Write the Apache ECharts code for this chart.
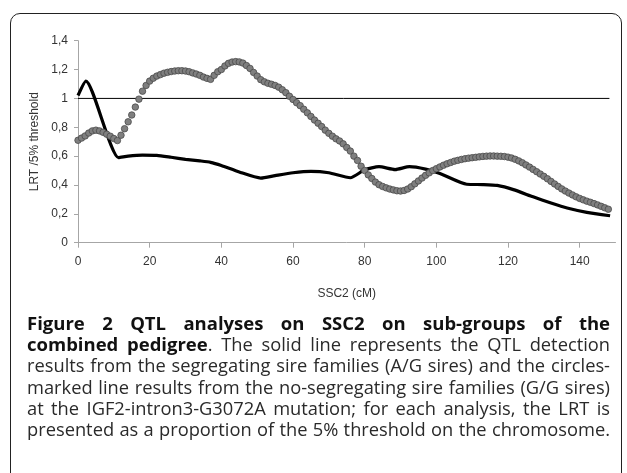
<!DOCTYPE html>
<html>
<head>
<meta charset="utf-8">
<script src="https://cdn.jsdelivr.net/npm/echarts@6/dist/echarts.min.js"></script>
<style>
  html, body { margin: 0; padding: 0; background: #fff; }
  #wrap { position: relative; width: 627px; height: 473px; overflow: hidden; background: #fff; }
  #frame { position: absolute; left: 10px; top: 13px; width: 612px; height: 470px;
           border: 1.5px solid #222; border-radius: 10px; box-sizing: border-box; }
  #chart { position: absolute; left: 0; top: 0; width: 627px; height: 473px; }
  #caption { position: absolute; left: 27px; top: 312px; width: 583px;
             font-family: "Open Sans", "Noto Sans", sans-serif; font-size: 18.3px; color: #2a2a2a; }
  #caption div { height: 21.2px; line-height: 21.2px; text-align: justify; text-align-last: justify; white-space: nowrap; overflow: visible; }
  #caption b { font-weight: 700; color: #111; }
</style>
</head>
<body>
<div id="wrap">
  <div id="frame"></div>
  <div id="chart"></div>
  <div id="caption">
    <div style="font-size:18.5px;font-weight:700;color:#111;white-space:normal;">Figure 2 QTL analyses on SSC2 on sub-groups of the</div>
    <div style="white-space:normal;"><b style="font-size:18.5px;">combined pedigree</b>. The solid line represents the QTL detection</div>
    <div style="white-space:normal;">results from the segregating sire families (A/G sires) and the circles-</div>
    <div style="white-space:normal;">marked line results from the no-segregating sire families (G/G sires)</div>
    <div style="white-space:normal;">at the IGF2-intron3-G3072A mutation; for each analysis, the LRT is</div>
    <div style="white-space:normal;">presented as a proportion of the 5% threshold on the chromosome.</div>
  </div>
</div>
<script>
// x-axis tick labels (cM) and y-axis tick labels
var xTicks = [0, 20, 40, 60, 80, 100, 120, 140];
var yTicks = [0, 0.2, 0.4, 0.6, 0.8, 1, 1.2, 1.4];

// Segregating sire families (A/G sires): solid line, [cM, LRT/threshold]
var solidX = [0, 2.2, 11.3, 14, 18, 22, 26, 30, 34, 37, 40, 45, 51, 55, 60, 65, 70, 76, 80, 84, 88.5, 92.5, 97, 101, 108.5, 113, 117, 121.5, 127, 132, 136.5, 142, 148.5];
var solidY = [1.02, 1.12, 0.59, 0.6, 0.607, 0.605, 0.592, 0.578, 0.567, 0.557, 0.535, 0.49, 0.448, 0.465, 0.485, 0.495, 0.485, 0.45, 0.505, 0.527, 0.507, 0.527, 0.51, 0.48, 0.405, 0.403, 0.397, 0.368, 0.318, 0.275, 0.24, 0.21, 0.187];

// No-segregating sire families (G/G sires): circles, one per cM from 0 to 148
var circleY = [
  0.71, 0.725, 0.74, 0.76, 0.775, 0.78, 0.775, 0.765, 0.752, 0.738,
  0.722, 0.708, 0.745, 0.79, 0.838, 0.885, 0.94, 0.995, 1.05, 1.09,
  1.12, 1.14, 1.155, 1.165, 1.175, 1.181, 1.186, 1.19, 1.192, 1.192,
  1.19, 1.185, 1.177, 1.169, 1.16, 1.148, 1.139, 1.132, 1.16, 1.185,
  1.2, 1.225, 1.243, 1.252, 1.255, 1.253, 1.245, 1.228, 1.208, 1.18,
  1.155, 1.13, 1.115, 1.105, 1.098, 1.09, 1.078, 1.06, 1.04, 1.015,
  0.993, 0.97, 0.95, 0.925, 0.9, 0.875, 0.85, 0.828, 0.805, 0.78,
  0.758, 0.738, 0.72, 0.705, 0.685, 0.66, 0.635, 0.6, 0.57, 0.53,
  0.5, 0.47, 0.445, 0.42, 0.402, 0.39, 0.38, 0.372, 0.366, 0.36,
  0.358, 0.362, 0.372, 0.388, 0.408, 0.428, 0.448, 0.467, 0.484, 0.5,
  0.513, 0.525, 0.537, 0.547, 0.556, 0.565, 0.571, 0.577, 0.582, 0.586,
  0.589, 0.592, 0.595, 0.598, 0.6, 0.601, 0.601, 0.6, 0.599, 0.597,
  0.593, 0.587, 0.578, 0.567, 0.554, 0.539, 0.524, 0.508, 0.492, 0.476,
  0.46, 0.443, 0.425, 0.407, 0.39, 0.373, 0.358, 0.344, 0.331, 0.318,
  0.307, 0.297, 0.288, 0.28, 0.271, 0.262, 0.252, 0.242, 0.232
];

// 5% threshold line
var thresholdX = [0, 148.3];
var thresholdY = [1, 1];

var solidData = solidX.map(function (x, i) { return [x, solidY[i]]; });
var circleData = circleY.map(function (y, i) { return [i, y]; });
var thresholdData = thresholdX.map(function (x, i) { return [x, thresholdY[i]]; });

var chart = echarts.init(document.getElementById('chart'), null, { renderer: 'canvas' });
var axisFont = '"Liberation Sans", Arial, sans-serif';
chart.setOption({
  animation: false,
  backgroundColor: 'transparent',
  grid: { left: 78, top: 40.7, width: 537.5, height: 202, containLabel: false },
  xAxis: {
    type: 'value', min: 0, max: 150, interval: 20,
    name: 'SSC2 (cM)', nameLocation: 'middle', nameGap: 45,
    nameTextStyle: { fontFamily: axisFont, fontSize: 12, color: '#333' },
    axisLine: { lineStyle: { color: '#a6a6a6', width: 1 } },
    axisTick: { show: true, length: 5, lineStyle: { color: '#a6a6a6' }, customValues: xTicks },
    axisLabel: { fontFamily: axisFont, fontSize: 12, color: '#333', margin: 13, customValues: xTicks },
    splitLine: { show: false }
  },
  yAxis: {
    type: 'value', min: 0, max: 1.4, interval: 0.2,
    name: 'LRT /5% threshold', nameLocation: 'middle', nameGap: 36, nameRotate: 90,
    nameTextStyle: { fontFamily: axisFont, fontSize: 12, color: '#333' },
    axisLine: { show: true, lineStyle: { color: '#a6a6a6', width: 1 } },
    axisTick: { show: true, length: 4, inside: false, lineStyle: { color: '#a6a6a6' }, customValues: yTicks },
    axisLabel: { fontFamily: axisFont, fontSize: 12, color: '#333', margin: 10, customValues: yTicks,
      formatter: function (v) { return String(Math.round(v * 10) / 10).replace('.', ','); } },
    splitLine: { show: false }
  },
  series: [
    { type: 'line', data: thresholdData, showSymbol: false, silent: true,
      lineStyle: { color: '#000', width: 1 }, z: 1 },
    { type: 'line', data: solidData, showSymbol: false, smooth: 0.2,
      lineStyle: { color: '#000', width: 3.2, join: 'round' }, z: 2 },
    { type: 'scatter', data: circleData, symbol: 'circle', symbolSize: 6.5,
      itemStyle: { color: '#7f7f7f', borderColor: '#4a4a4a', borderWidth: 0.8, opacity: 1 }, z: 3 }
  ]
});
</script>
</body>
</html>
